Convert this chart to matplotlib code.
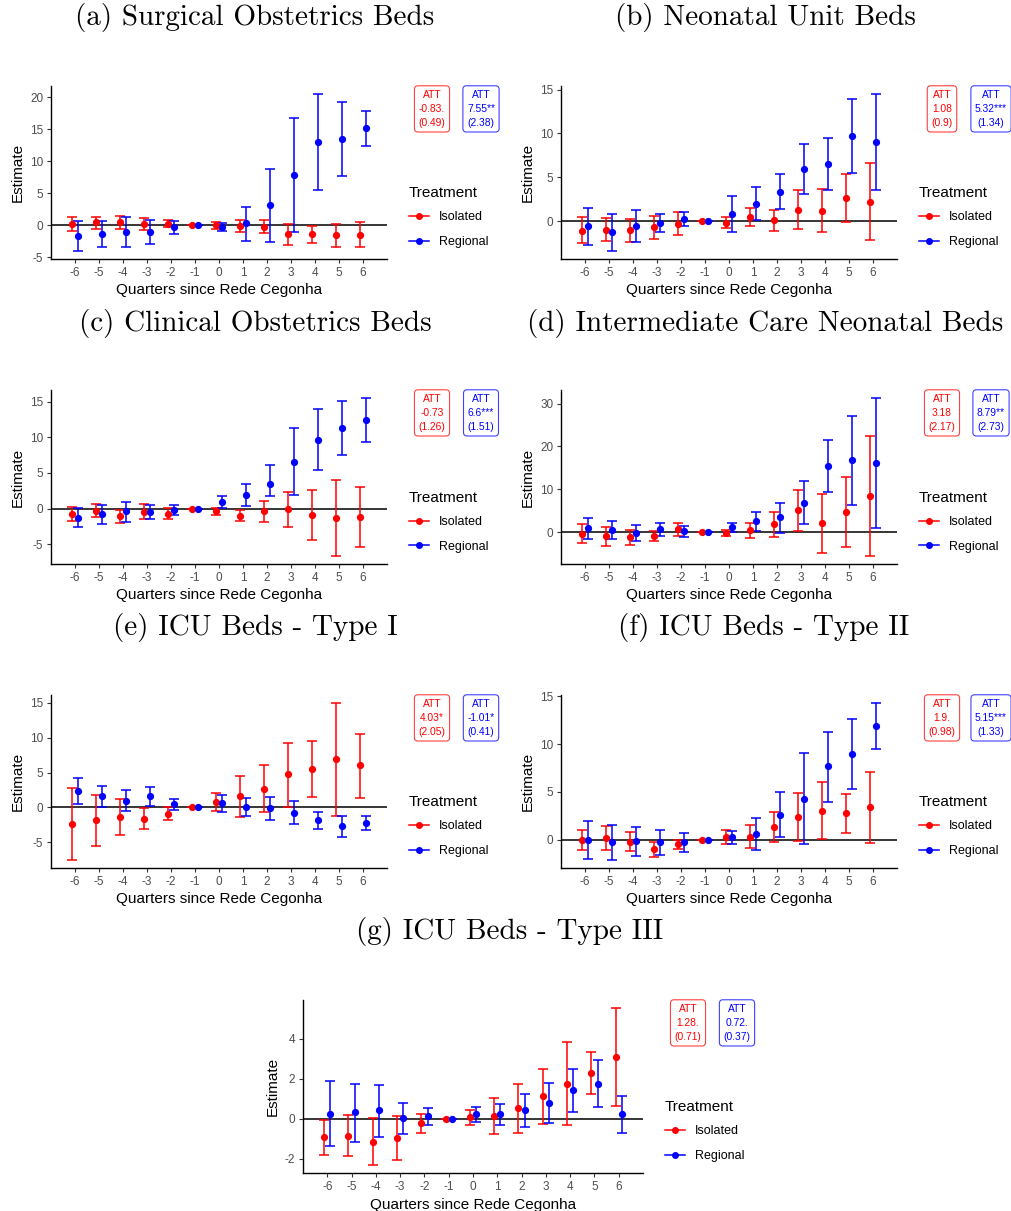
"""
Event-study estimates by bed type: isolated vs regional Rede Cegonha
"""

import numpy as np
import matplotlib.pyplot as plt
from matplotlib.lines import Line2D

plt.rcParams['font.family'] = ['Liberation Sans', 'DejaVu Sans']
plt.rcParams['axes.unicode_minus'] = False

quarters = [-6, -5, -4, -3, -2, -1, 0, 1, 2, 3, 4, 5, 6]

# ==== (a) Surgical Obstetrics Beds ====
a_iso = [0.26, 0.47, 0.47, 0.26, 0.26, 0, 0, -0.05, -0.21, -1.45, -1.40, -1.56, -1.50]
a_iso_lo = [-0.83, -0.52, -0.62, -0.68, -0.31, 0, -0.52, -0.99, -1.25, -3.10, -2.80, -3.48, -3.48]
a_iso_hi = [1.25, 1.35, 1.40, 1.14, 0.88, 0, 0.57, 0.78, 0.78, 0.16, -0.05, 0.26, 0.47]
a_reg = [-1.66, -1.35, -1.04, -1.04, -0.31, 0, -0.21, 0.36, 3.17, 7.84, 12.99, 13.51, 15.12]
a_reg_lo = [-4.05, -3.48, -3.38, -2.86, -1.35, 0, -0.83, -2.44, -2.55, -0.99, 5.51, 7.64, 12.31]
a_reg_hi = [0.62, 0.68, 1.25, 0.78, 0.68, 0, 0.31, 2.91, 8.78, 16.73, 20.52, 19.32, 17.92]

# ==== (b) Neonatal Unit Beds ====
b_iso = [-1.10, -0.99, -1.06, -0.72, -0.30, 0, -0.19, 0.42, 0.11, 1.29, 1.18, 2.62, 2.16]
b_iso_lo = [-2.54, -2.32, -2.39, -2.09, -1.56, 0, -0.80, -0.61, -1.14, -0.84, -1.29, -0.15, -2.20]
b_iso_hi = [0.46, 0.34, 0.27, 0.61, 0.99, 0, 0.49, 1.48, 1.29, 3.53, 3.61, 5.39, 6.61]
b_reg = [-0.61, -1.29, -0.61, -0.19, 0.30, 0, 0.84, 2.01, 3.34, 5.92, 6.53, 9.76, 9.04]
b_reg_lo = [-2.77, -3.42, -2.43, -1.22, -0.57, 0, -1.25, 0.11, 1.41, 3.08, 3.53, 5.51, 3.57]
b_reg_hi = [1.52, 0.76, 1.25, 0.76, 1.03, 0, 2.81, 3.91, 5.32, 8.85, 9.49, 13.98, 14.51]

# ==== (c) Clinical Obstetrics Beds ====
c_iso = [-0.70, -0.33, -1.07, -0.42, -0.70, 0, -0.37, -0.98, -0.33, -0.09, -0.89, -1.31, -1.17]
c_iso_lo = [-1.73, -1.17, -2.01, -1.45, -1.45, 0, -0.89, -1.78, -1.87, -2.57, -4.39, -6.64, -5.42]
c_iso_hi = [0.28, 0.61, -0.23, 0.61, 0.14, 0, 0.14, -0.19, 1.12, 2.38, 2.62, 4.02, 2.99]
c_reg = [-1.26, -0.79, -0.37, -0.42, -0.19, 0, 0.93, 1.96, 3.41, 6.54, 9.63, 11.31, 12.48]
c_reg_lo = [-2.57, -2.10, -1.82, -1.45, -0.84, 0, 0.09, 0.42, 1.82, 1.87, 5.37, 7.48, 9.35]
c_reg_hi = [0.05, 0.51, 0.93, 0.51, 0.51, 0, 1.78, 3.46, 6.17, 11.26, 13.97, 15.14, 15.51]

# ==== (d) Intermediate Care Neonatal Beds ====
d_iso = [-0.39, -0.94, -1.25, -1.01, 0.62, 0, -0.16, 0.47, 1.87, 5.07, 2.03, 4.75, 8.50]
d_iso_lo = [-2.57, -3.20, -2.96, -2.10, -0.94, 0, -0.86, -1.40, -1.09, 0.31, -4.83, -3.43, -5.61]
d_iso_hi = [1.79, 1.09, 0.55, 0.23, 2.10, 0, 0.55, 2.18, 4.75, 9.74, 8.89, 12.86, 22.37]
d_reg = [0.86, 0.55, -0.16, 0.78, 0.23, 0, 1.09, 2.49, 3.43, 6.86, 15.51, 16.76, 16.13]
d_reg_lo = [-1.64, -1.56, -2.03, -0.86, -1.17, 0, 0.08, 0.31, -0.16, 1.79, 9.28, 6.24, 0.94]
d_reg_hi = [3.27, 2.65, 1.71, 2.18, 1.48, 0, 2.10, 4.60, 6.70, 11.85, 21.59, 27.20, 31.33]

# ==== (e) ICU Beds - Type I ====
e_iso = [-2.39, -1.86, -1.39, -1.62, -0.91, 0, 0.76, 1.58, 2.72, 4.73, 5.54, 6.93, 6.02]
e_iso_lo = [-7.55, -5.49, -4.01, -3.06, -1.86, 0, -0.53, -1.34, -0.67, 0.10, 1.48, -1.24, 1.43]
e_iso_hi = [2.77, 1.82, 1.15, -0.10, 0.10, 0, 2.05, 4.49, 6.07, 9.27, 9.60, 15.00, 10.56]
e_reg = [2.39, 1.58, 0.96, 1.58, 0.43, 0, 0.62, 0.10, -0.10, -0.72, -1.82, -2.68, -2.20]
e_reg_lo = [0.53, 0.10, -0.48, 0.19, -0.43, 0, -0.67, -1.24, -1.82, -2.39, -3.06, -4.20, -3.25]
e_reg_hi = [4.20, 3.06, 2.44, 2.87, 1.15, 0, 1.86, 1.39, 1.53, 1.00, -0.62, -1.24, -1.19]

# ==== (f) ICU Beds - Type II ====
f_iso = [0.00, 0.21, -0.21, -0.97, -0.52, 0, 0.28, 0.28, 1.29, 2.40, 3.03, 2.75, 3.38]
f_iso_lo = [-1.08, -1.08, -1.25, -1.78, -0.97, 0, -0.45, -0.90, -0.31, -0.14, 0.10, 0.63, -0.35]
f_iso_hi = [1.04, 1.43, 0.77, -0.21, -0.03, 0, 1.01, 1.53, 2.89, 4.91, 6.06, 4.80, 7.03]
f_reg = [-0.03, -0.28, -0.17, -0.31, -0.31, 0, 0.28, 0.59, 2.61, 4.25, 7.66, 8.98, 11.90]
f_reg_lo = [-2.05, -2.16, -1.74, -1.67, -1.32, 0, -0.42, -1.15, 0.24, -0.45, 3.93, 5.29, 9.47]
f_reg_hi = [1.98, 1.57, 1.36, 1.01, 0.63, 0, 0.90, 2.30, 4.94, 9.01, 11.24, 12.60, 14.31]

# ==== (g) ICU Beds - Type III ====
g_iso = [-0.93, -0.85, -1.15, -0.97, -0.22, 0, 0.08, 0.15, 0.52, 1.12, 1.75, 2.28, 3.08]
g_iso_lo = [-1.80, -1.88, -2.32, -2.07, -0.70, 0, -0.32, -0.77, -0.70, -0.25, -0.33, 1.23, 0.63]
g_iso_hi = [-0.05, 0.18, 0.03, 0.13, 0.25, 0, 0.43, 1.05, 1.73, 2.50, 3.83, 3.33, 5.55]
g_reg = [0.25, 0.32, 0.42, 0.02, 0.12, 0, 0.22, 0.22, 0.42, 0.78, 1.42, 1.73, 0.23]
g_reg_lo = [-1.38, -1.17, -0.90, -0.77, -0.33, 0, -0.17, -0.33, -0.43, -0.22, 0.33, 0.58, -0.70]
g_reg_hi = [1.88, 1.75, 1.70, 0.80, 0.53, 0, 0.60, 0.75, 1.23, 1.77, 2.48, 2.92, 1.15]

titles = ['(a) Surgical Obstetrics Beds', '(b) Neonatal Unit Beds',
          '(c) Clinical Obstetrics Beds', '(d) Intermediate Care Neonatal Beds',
          '(e) ICU Beds - Type I', '(f) ICU Beds - Type II', '(g) ICU Beds - Type III']

att_iso_est = ['-0.83.', '1.08', '-0.73', '3.18', '4.03*', '1.9.', '1.28.']
att_iso_se = ['(0.49)', '(0.9)', '(1.26)', '(2.17)', '(2.05)', '(0.98)', '(0.71)']
att_reg_est = ['7.55**', '5.32***', '6.6***', '8.79**', '-1.01*', '5.15***', '0.72.']
att_reg_se = ['(2.38)', '(1.34)', '(1.51)', '(2.73)', '(0.41)', '(1.33)', '(0.37)']

yticks = [[-5, 0, 5, 10, 15, 20], [0, 5, 10, 15], [-5, 0, 5, 10, 15], [0, 10, 20, 30],
          [-5, 0, 5, 10, 15], [0, 5, 10, 15], [-2, 0, 2, 4]]

panels = [
    (a_iso, a_iso_lo, a_iso_hi, a_reg, a_reg_lo, a_reg_hi),
    (b_iso, b_iso_lo, b_iso_hi, b_reg, b_reg_lo, b_reg_hi),
    (c_iso, c_iso_lo, c_iso_hi, c_reg, c_reg_lo, c_reg_hi),
    (d_iso, d_iso_lo, d_iso_hi, d_reg, d_reg_lo, d_reg_hi),
    (e_iso, e_iso_lo, e_iso_hi, e_reg, e_reg_lo, e_reg_hi),
    (f_iso, f_iso_lo, f_iso_hi, f_reg, f_reg_lo, f_reg_hi),
    (g_iso, g_iso_lo, g_iso_hi, g_reg, g_reg_lo, g_reg_hi),
]

W, H = 1011, 1211
# axes boxes in pixels: left, top, right, bottom
boxes = [(51, 86, 387, 259), (561, 86, 897, 259),
         (51, 390, 387, 564), (561, 390, 897, 564),
         (51, 695, 387, 868), (561, 695, 897, 868),
         (303, 1000, 643, 1173)]
title_pos = [(255, 18), (765, 18), (255, 323), (765, 323), (255, 627), (764, 627), (510, 931)]

RED = '#FF0000'
BLUE = '#0000FF'
DODGE = 0.13

fig = plt.figure(figsize=(W / 100, H / 100), dpi=100)

for i, (iso, iso_lo, iso_hi, reg, reg_lo, reg_hi) in enumerate(panels):
    l, t, r, b = boxes[i]
    ax = fig.add_axes([l / W, 1 - b / H, (r - l) / W, (b - t) / H])
    x = np.array(quarters, dtype=float)

    for est, lo, hi, col, dx in [(iso, iso_lo, iso_hi, RED, -DODGE),
                                 (reg, reg_lo, reg_hi, BLUE, DODGE)]:
        est = np.array(est); lo = np.array(lo); hi = np.array(hi)
        ax.errorbar(x + dx, est, yerr=[est - lo, hi - est], fmt='o', color=col,
                    ms=4.2, capsize=3.8, elinewidth=1.1, capthick=1.1, zorder=3)

    ax.axhline(0, color='black', lw=1.1, zorder=2)

    # ggplot-like 5% expansion
    allv = np.concatenate([iso_lo, iso_hi, reg_lo, reg_hi])
    span = allv.max() - allv.min()
    ax.set_ylim(allv.min() - 0.05 * span, allv.max() + 0.05 * span)
    ax.set_xlim(-7, 7)
    ax.set_xticks(quarters)
    ax.set_yticks(yticks[i])

    for s in ['top', 'right']:
        ax.spines[s].set_visible(False)
    for s in ['left', 'bottom']:
        ax.spines[s].set_linewidth(1.0)
    ax.tick_params(axis='both', length=3, width=0.8, color='#333333',
                   labelsize=8.5, labelcolor='#4D4D4D', pad=2.5)
    ax.set_xlabel('Quarters since Rede Cegonha', fontsize=11, labelpad=3.5)
    ax.set_ylabel('Estimate', fontsize=11, labelpad=4)

    w_px = r - l
    # ATT boxes
    for txt, col, dx in [('ATT\n' + att_iso_est[i] + '\n' + att_iso_se[i], RED, 45),
                         ('ATT\n' + att_reg_est[i] + '\n' + att_reg_se[i], BLUE, 94)]:
        ax.annotate(txt, xy=(1, 1), xycoords='axes fraction',
                    xytext=(dx * 0.72, -2.8), textcoords='offset points',
                    ha='center', va='top', fontsize=7.4, color=col, linespacing=1.5,
                    annotation_clip=False,
                    bbox=dict(boxstyle='round,pad=0.4,rounding_size=0.35', fc='white',
                              ec=col, lw=0.8, alpha=0.75))

    handles = [Line2D([], [], color=RED, marker='o', ms=4, lw=1.1),
               Line2D([], [], color=BLUE, marker='o', ms=4, lw=1.1)]
    leg = ax.legend(handles, ['Isolated', 'Regional'], title='Treatment',
                    loc='upper left', bbox_to_anchor=(1 + 22 / w_px, 0.42),
                    frameon=False, fontsize=9, title_fontsize=11, handlelength=1.6,
                    handletextpad=0.8, labelspacing=1.0, borderpad=0, borderaxespad=0,
                    alignment='left')
    leg._legend_box.sep = 8

    tx, ty = title_pos[i]
    fig.text(tx / W, 1 - ty / H, titles[i], ha='center', va='center', fontsize=21,
             family=['cmr10', 'DejaVu Serif'])

plt.savefig('out.png', dpi=100)
plt.close()
